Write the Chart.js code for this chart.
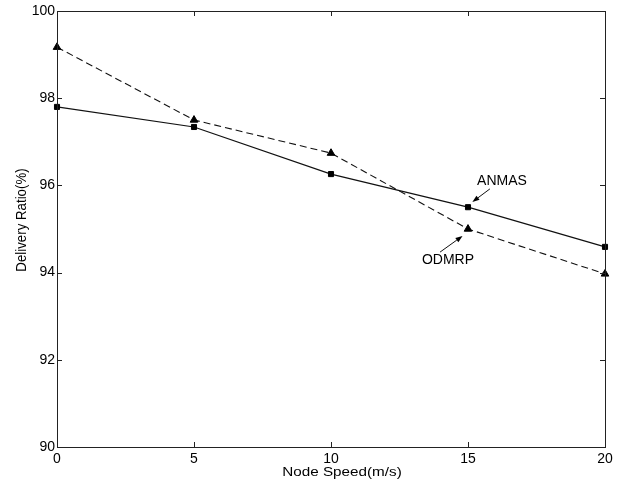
<!DOCTYPE html>
<html>
<head>
<meta charset="utf-8">
<script src="https://cdn.jsdelivr.net/npm/chart.js@4/dist/chart.umd.min.js"></script>
<style>
  html, body { margin: 0; padding: 0; background: #fff; }
  #wrap { width: 635px; height: 486px; }
</style>
</head>
<body>
<div id="wrap"><canvas id="c" width="635" height="486"></canvas></div>
<script>
// Node speed (m/s) on the x axis
const speeds = [0, 5, 10, 15, 20];
// Delivery ratio (%) per protocol
const anmas = [97.80, 97.34, 96.26, 95.50, 94.59];
const odmrp = [99.17, 97.50, 96.74, 95.00, 93.97];
// Tick values
const xTicks = [0, 5, 10, 15, 20];
const yTicks = [90, 92, 94, 96, 98, 100];
// Axis titles
const xTitle = 'Node Speed(m/s)';
const yTitle = 'Delivery Ratio(%)';

const FONT = 'Arial, "Liberation Sans", Helvetica, sans-serif';

// Callout labels with arrows, positioned in data units
const callouts = [
  { text: 'ANMAS', tx: 16.24, ty: 96.10, from: [15.80, 95.92], to: [15.16, 95.62] },
  { text: 'ODMRP', tx: 14.27, ty: 94.29, from: [13.98, 94.47], to: [14.80, 94.84] }
];

// Frame around the plot area with inward tick marks on all four sides
const framePlugin = {
  id: 'frame',
  afterDatasetsDraw(chart) {
    const { ctx, chartArea: a, scales: { x, y } } = chart;
    const len = 5;
    ctx.save();
    ctx.strokeStyle = '#222';
    ctx.lineWidth = 1;
    ctx.strokeRect(Math.round(a.left) + 0.5, Math.round(a.top) + 0.5,
                   Math.round(a.right - a.left), Math.round(a.bottom - a.top));
    ctx.beginPath();
    xTicks.forEach(v => {
      const px = Math.round(x.getPixelForValue(v)) + 0.5;
      ctx.moveTo(px, a.bottom); ctx.lineTo(px, a.bottom - len);
      ctx.moveTo(px, a.top); ctx.lineTo(px, a.top + len);
    });
    yTicks.forEach(v => {
      const py = Math.round(y.getPixelForValue(v)) + 0.5;
      ctx.moveTo(a.left, py); ctx.lineTo(a.left + len, py);
      ctx.moveTo(a.right, py); ctx.lineTo(a.right - len, py);
    });
    ctx.stroke();
    ctx.restore();
  }
};

// Axis titles, drawn with a slight stretch along the x direction
const titlePlugin = {
  id: 'axisTitles',
  afterDraw(chart) {
    const { ctx, chartArea: a } = chart;
    ctx.save();
    ctx.fillStyle = '#000';
    ctx.textAlign = 'center';
    ctx.textBaseline = 'middle';

    ctx.save();
    ctx.font = '12.5px ' + FONT;
    ctx.translate((a.left + a.right) / 2 + 11, a.bottom + 26);
    ctx.scale(1.22, 1);
    ctx.fillText(xTitle, 0, 0);
    ctx.restore();

    ctx.save();
    ctx.font = '15px ' + FONT;
    ctx.translate(22, (a.top + a.bottom) / 2 - 9);
    ctx.rotate(-Math.PI / 2);
    ctx.scale(0.885, 1);
    ctx.fillText(yTitle, 0, 0);
    ctx.restore();

    ctx.restore();
  }
};

// Text callouts with arrowheads pointing at the marked points
const calloutPlugin = {
  id: 'callouts',
  afterDatasetsDraw(chart) {
    const { ctx, scales: { x, y } } = chart;
    ctx.save();
    ctx.fillStyle = '#000';
    ctx.strokeStyle = '#111';
    ctx.lineWidth = 1;
    ctx.font = '14px ' + FONT;
    ctx.textAlign = 'center';
    ctx.textBaseline = 'middle';
    callouts.forEach(c => {
      ctx.fillText(c.text, x.getPixelForValue(c.tx), y.getPixelForValue(c.ty));
      const x0 = x.getPixelForValue(c.from[0]), y0 = y.getPixelForValue(c.from[1]);
      const x1 = x.getPixelForValue(c.to[0]), y1 = y.getPixelForValue(c.to[1]);
      const ang = Math.atan2(y1 - y0, x1 - x0);
      const hl = 7, hw = 2.6;
      ctx.beginPath();
      ctx.moveTo(x0, y0);
      ctx.lineTo(x1 - Math.cos(ang) * hl, y1 - Math.sin(ang) * hl);
      ctx.stroke();
      ctx.beginPath();
      ctx.moveTo(x1, y1);
      ctx.lineTo(x1 - Math.cos(ang) * hl - Math.sin(ang) * hw, y1 - Math.sin(ang) * hl + Math.cos(ang) * hw);
      ctx.lineTo(x1 - Math.cos(ang) * hl + Math.sin(ang) * hw, y1 - Math.sin(ang) * hl - Math.cos(ang) * hw);
      ctx.closePath();
      ctx.fill();
    });
    ctx.restore();
  }
};

const toPoints = vals => speeds.map((s, i) => ({ x: s, y: vals[i] }));

new Chart(document.getElementById('c'), {
  type: 'line',
  data: {
    datasets: [
      {
        label: 'ANMAS',
        data: toPoints(anmas),
        borderColor: '#111',
        backgroundColor: '#000',
        borderWidth: 1.2,
        pointStyle: 'rect',
        pointRadius: 3.6,
        pointBorderWidth: 1,
        pointBackgroundColor: '#000',
        pointBorderColor: '#000',
        tension: 0,
        clip: false
      },
      {
        label: 'ODMRP',
        data: toPoints(odmrp),
        borderColor: '#111',
        backgroundColor: '#000',
        borderWidth: 1.1,
        borderDash: [7, 4],
        pointStyle: 'triangle',
        pointRadius: 4.4,
        pointBorderWidth: 1,
        pointBackgroundColor: '#000',
        pointBorderColor: '#000',
        tension: 0,
        clip: false
      }
    ]
  },
  options: {
    responsive: false,
    animation: false,
    devicePixelRatio: 1,
    layout: { padding: { top: 11, right: 30, left: 0, bottom: 0 } },
    plugins: { legend: { display: false }, tooltip: { enabled: false } },
    scales: {
      x: {
        type: 'linear',
        min: 0, max: 20,
        afterBuildTicks: s => { s.ticks = xTicks.map(v => ({ value: v })); },
        afterFit: s => { s.height = 39; },
        grid: { display: false, drawTicks: false },
        border: { display: false },
        ticks: { color: '#000', padding: 4, font: { family: FONT, size: 14 }, maxRotation: 0 }
      },
      y: {
        min: 90, max: 100,
        afterBuildTicks: s => { s.ticks = yTicks.map(v => ({ value: v })); },
        afterFit: s => { s.width = 57; },
        grid: { display: false, drawTicks: false },
        border: { display: false },
        ticks: { color: '#000', padding: 2, font: { family: FONT, size: 14 } }
      }
    }
  },
  plugins: [framePlugin, calloutPlugin, titlePlugin]
});
</script>
</body>
</html>
